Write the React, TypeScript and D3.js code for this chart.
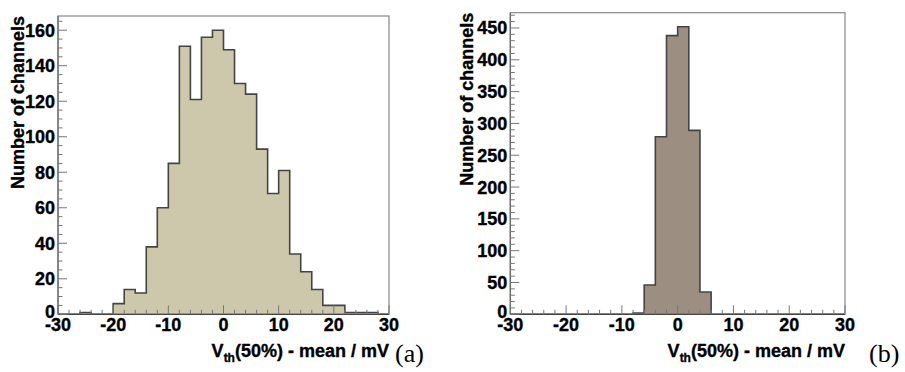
import React from "react";
import * as d3 from "d3";

const binStart = -30;
const binWidth = 2;
const xTickValues = [-30, -20, -10, 0, 10, 20, 30];
const leftYTicks = [0, 20, 40, 60, 80, 100, 120, 140, 160];
const rightYTicks = [0, 50, 100, 150, 200, 250, 300, 350, 400, 450];
const leftCounts = [0, 0, 1, 0, 0, 6, 14, 12, 38, 60, 85, 151, 121, 156, 160, 149, 130, 124, 93, 68, 81, 34, 24, 14, 5, 5, 1, 1, 1, 0];
const rightCounts = [0, 0, 0, 0, 0, 0, 0, 0, 0, 0, 0, 2, 46, 279, 438, 452, 289, 35, 0, 0, 0, 0, 0, 0, 0, 0, 0, 0, 0, 0];
const yTitle = "Number of channels";
const panelLabels = ["(a)", "(b)"];

const FONT = "'Liberation Sans', Arial, Helvetica, sans-serif";
const bold = { fontFamily: FONT, fontWeight: "bold" as const, fill: "#000", stroke: "#000", strokeWidth: 0.35 };

type PanelProps = {
  counts: number[];
  x0: number; x1: number; yTop: number; yBase: number;
  yMax: number; yTicks: number[]; yMinorStep: number;
  fill: string; titleX: number; label: string; labelX: number;
};

function Panel(p: PanelProps) {
  const x = d3.scaleLinear().domain([-30, 30]).range([p.x0, p.x1]);
  const y = d3.scaleLinear().domain([0, p.yMax]).range([p.yBase, p.yTop]);
  const pts: [number, number][] = [[binStart, 0]];
  p.counts.forEach((v, i) => pts.push([binStart + i * binWidth, v]));
  pts.push([binStart + p.counts.length * binWidth, 0]);
  const line = d3.line<[number, number]>().x(d => x(d[0])).y(d => y(d[1])).curve(d3.curveStepAfter);
  const area = d3.area<[number, number]>().x(d => x(d[0])).y0(y(0)).y1(d => y(d[1])).curve(d3.curveStepAfter);
  const xMinor = d3.range(-30, 30.001, 2);
  const yMinor = d3.range(0, p.yMax, p.yMinorStep);
  return (
    <g>
      <path d={area(pts) || ""} fill={p.fill} stroke="none" />
      <path d={line(pts) || ""} fill="none" stroke="#444" strokeWidth={1.6} />
      <rect x={p.x0} y={p.yTop} width={p.x1 - p.x0} height={p.yBase - p.yTop} fill="none" stroke="#888" strokeWidth={1.2} />
      <line x1={p.x0} x2={p.x0} y1={p.yTop} y2={p.yBase} stroke="#666" strokeWidth={1.2} />
      <line x1={p.x0} x2={p.x1} y1={p.yBase} y2={p.yBase} stroke="#444" strokeWidth={1.3} />
      {yMinor.map(v => {
        const major = p.yTicks.includes(v);
        return <line key={"ym" + v} x1={p.x0} x2={p.x0 + (major ? 9 : 4.5)} y1={y(v)} y2={y(v)} stroke="#777" strokeWidth={1} />;
      })}
      {xMinor.map(v => {
        const major = xTickValues.includes(Math.round(v));
        return <line key={"xm" + v} x1={x(v)} x2={x(v)} y1={p.yBase} y2={p.yBase - (major ? 9 : 4.5)} stroke="#777" strokeWidth={1} />;
      })}
      {p.yTicks.map(v => (
        <text key={"yl" + v} x={p.x0 - 3} y={y(v) - (v === 0 ? 3 : 0)} dy="0.36em" textAnchor="end" fontSize={18} {...bold}>{v}</text>
      ))}
      {xTickValues.map(v => (
        <text key={"xl" + v} x={x(v)} y={p.yBase + 17} textAnchor="middle" fontSize={18} {...bold}>{v}</text>
      ))}
      <text transform={`translate(${p.titleX},${p.yTop}) rotate(-90)`} textAnchor="end" fontSize={18} {...bold}>{yTitle}</text>
      <text x={p.x1} y={p.yBase + 43} textAnchor="end" fontSize={18} {...bold}>
        V<tspan fontSize={12} dy={5}>th</tspan><tspan dy={-5}>(50%) - mean / mV</tspan>
      </text>
      <text x={p.labelX} y={p.yBase + 48} fontFamily="'Liberation Serif', 'Times New Roman', serif" fontSize={26} fill="#000">{p.label}</text>
    </g>
  );
}

export default function App() {
  return (
    <svg width={905} height={372} style={{ position: "absolute", left: 0, top: 0, background: "#fff" }}>
      <rect x={0} y={0} width={905} height={372} fill="#fff" />
      <Panel counts={leftCounts} x0={58} x1={389} yTop={16} yBase={314.3} yMax={168} yTicks={leftYTicks} yMinorStep={5}
        fill="#cdc8ab" titleX={24} label={panelLabels[0]} labelX={395} />
      <Panel counts={rightCounts} x0={510.3} x1={845} yTop={12.7} yBase={314.3} yMax={474} yTicks={rightYTicks} yMinorStep={10}
        fill="#9c8e80" titleX={473} label={panelLabels[1]} labelX={869} />
    </svg>
  );
}
